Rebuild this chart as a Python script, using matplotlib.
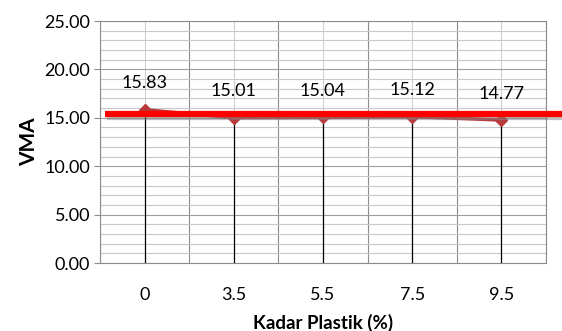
import numpy as np
import matplotlib.pyplot as plt
import matplotlib.patheffects as pe
from matplotlib.ticker import MultipleLocator

plt.rcParams['font.family'] = ['Lato', 'DejaVu Sans']

kadar = ['0', '3.5', '5.5', '7.5', '9.5']
vma = [15.83, 15.01, 15.04, 15.12, 14.77]
batas = 15.4  # garis merah batas VMA

x = np.arange(len(kadar))

fig = plt.figure(figsize=(5.62, 3.31), dpi=100)
ax = fig.add_axes([100/562, 1-263/331, 446/562, 242/331])

ax.set_xlim(-0.5, len(kadar)-0.5)
ax.set_ylim(0, 25)

# grid
ax.yaxis.set_major_locator(MultipleLocator(5))
ax.yaxis.set_minor_locator(MultipleLocator(1))
ax.set_xticks(x)
ax.set_xticks(np.arange(-0.5, len(kadar)), minor=True)
ax.grid(which='minor', axis='y', color='#c8c8c8', lw=0.8)
ax.grid(which='major', axis='y', color='#a0a0a0', lw=0.8)
ax.grid(which='minor', axis='x', color='#8c8c8c', lw=0.8)
ax.grid(which='major', axis='x', color='#d0d0d0', lw=0.8)
ax.set_axisbelow(True)

for s in ax.spines.values():
    s.set_color('#8c8c8c')
    s.set_linewidth(0.8)

ax.set_xticklabels(kadar, fontsize=13)
ax.set_yticklabels(['%.2f' % v for v in ax.get_yticks()], fontsize=13)
ax.tick_params(axis='x', which='both', length=0, pad=17)
ax.tick_params(axis='y', which='major', length=4, color='#8c8c8c', pad=3)
ax.tick_params(axis='y', which='minor', length=0)

# drop lines
ax.vlines(x, 0, vma, color='black', lw=0.9, zorder=3)

# data
ax.plot(x, vma, color='#b83a3a', lw=2.5, marker='D', ms=6.5, zorder=4)
for xi, v in zip(x, vma):
    ax.annotate('%.2f' % v, (xi, v), xytext=(0, 19), textcoords='offset points',
                ha='center', va='center', fontsize=13)

# garis batas
ax.plot([-0.44, 4.68], [batas, batas], color='#ff0000', lw=4.5, zorder=5,
        solid_capstyle='butt', clip_on=False,
        path_effects=[pe.SimpleLineShadow(offset=(1, -2), shadow_color='gray', alpha=0.5),
                      pe.Normal()])

ax.set_ylabel('VMA', fontsize=15, fontweight='bold', labelpad=4)
ax.set_xlabel('Kadar Plastik (%)', fontsize=13.5, fontweight='bold', labelpad=8)

fig.savefig('out.png', dpi=100)
